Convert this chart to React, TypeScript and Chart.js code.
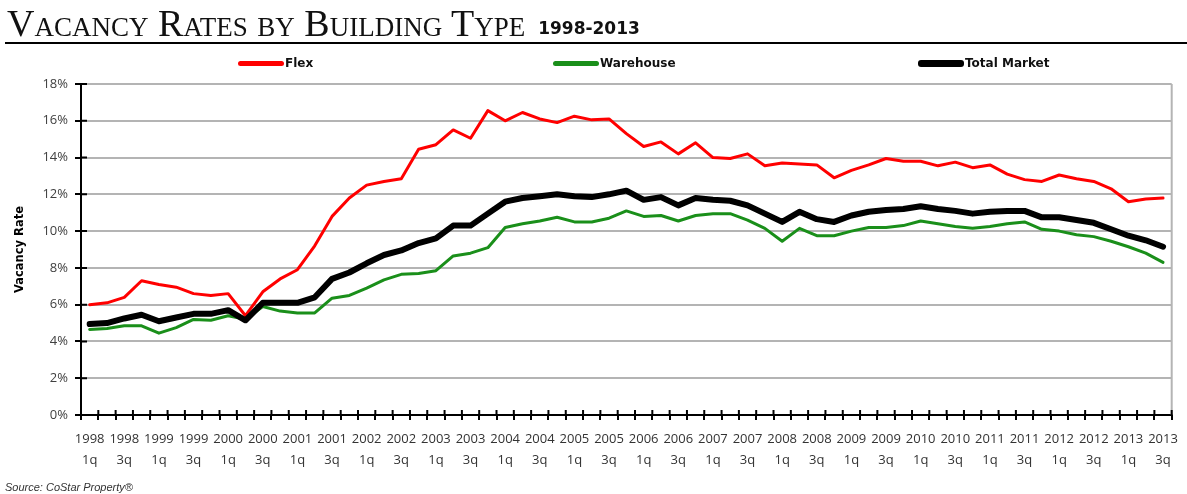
import React, { useEffect, useRef } from 'react';
import { Chart, registerables } from 'chart.js';

Chart.register(...registerables);

// ---------- DATA ----------
const categories = [
  '1998 1q', '1998 2q', '1998 3q', '1998 4q',
  '1999 1q', '1999 2q', '1999 3q', '1999 4q',
  '2000 1q', '2000 2q', '2000 3q', '2000 4q',
  '2001 1q', '2001 2q', '2001 3q', '2001 4q',
  '2002 1q', '2002 2q', '2002 3q', '2002 4q',
  '2003 1q', '2003 2q', '2003 3q', '2003 4q',
  '2004 1q', '2004 2q', '2004 3q', '2004 4q',
  '2005 1q', '2005 2q', '2005 3q', '2005 4q',
  '2006 1q', '2006 2q', '2006 3q', '2006 4q',
  '2007 1q', '2007 2q', '2007 3q', '2007 4q',
  '2008 1q', '2008 2q', '2008 3q', '2008 4q',
  '2009 1q', '2009 2q', '2009 3q', '2009 4q',
  '2010 1q', '2010 2q', '2010 3q', '2010 4q',
  '2011 1q', '2011 2q', '2011 3q', '2011 4q',
  '2012 1q', '2012 2q', '2012 3q', '2012 4q',
  '2013 1q', '2013 2q', '2013 3q',
];

const flex = [
  6.0, 6.1, 6.4, 7.3, 7.1, 6.95, 6.6, 6.5, 6.6, 5.4,
  6.7, 7.4, 7.9, 9.2, 10.8, 11.8, 12.5, 12.7, 12.85, 14.45,
  14.7, 15.5, 15.05, 16.55, 16.0, 16.45, 16.1, 15.9, 16.25, 16.05,
  16.1, 15.3, 14.6, 14.85, 14.2, 14.8, 14.0, 13.95, 14.2, 13.55,
  13.7, 13.65, 13.6, 12.9, 13.3, 13.6, 13.95, 13.8, 13.8, 13.55,
  13.75, 13.45, 13.6, 13.1, 12.8, 12.7, 13.05, 12.85, 12.7, 12.3,
  11.6, 11.75, 11.8,
];

const warehouse = [
  4.65, 4.7, 4.85, 4.85, 4.45, 4.75, 5.2, 5.15, 5.4, 5.2,
  5.9, 5.65, 5.55, 5.55, 6.35, 6.5, 6.9, 7.35, 7.65, 7.7,
  7.85, 8.65, 8.8, 9.1, 10.2, 10.4, 10.55, 10.75, 10.5, 10.5,
  10.7, 11.1, 10.8, 10.85, 10.55, 10.85, 10.95, 10.95, 10.6, 10.15,
  9.45, 10.15, 9.75, 9.75, 10.0, 10.2, 10.2, 10.3, 10.55, 10.4,
  10.25, 10.15, 10.25, 10.4, 10.5, 10.1, 10.0, 9.8, 9.7, 9.45,
  9.15, 8.8, 8.3,
];

const totalMarket = [
  4.95, 5.0, 5.25, 5.45, 5.1, 5.3, 5.5, 5.5, 5.7, 5.15,
  6.1, 6.1, 6.1, 6.4, 7.4, 7.75, 8.25, 8.7, 8.95, 9.35,
  9.6, 10.3, 10.3, 10.95, 11.6, 11.8, 11.9, 12.0, 11.9, 11.85,
  12.0, 12.2, 11.7, 11.85, 11.4, 11.8, 11.7, 11.65, 11.4, 10.95,
  10.5, 11.05, 10.65, 10.5, 10.85, 11.05, 11.15, 11.2, 11.35, 11.2,
  11.1, 10.95, 11.05, 11.1, 11.1, 10.75, 10.75, 10.6, 10.45, 10.1,
  9.75, 9.5, 9.15,
];

const seriesNames = ['Flex', 'Warehouse', 'Total Market'];
const seriesColors = ['#ff0000', '#1a8f1a', '#000000'];

const yMin = 0;
const yMax = 18;
const yStep = 2;

// ---------- LAYOUT ----------
const W = 1187;
const H = 494;
const legendLeft = [238, 553, 918];
const legendLineWidth = [5, 5, 7];

const axisDecor = {
  id: 'axisDecor',
  beforeDatasetsDraw(chart: any) {
    const { ctx, chartArea, scales } = chart;
    const xs = scales.x;
    const ys = scales.y;
    ctx.save();
    // right plot border
    ctx.strokeStyle = '#b4b4b4';
    ctx.lineWidth = 2;
    ctx.beginPath();
    ctx.moveTo(chartArea.right, chartArea.top);
    ctx.lineTo(chartArea.right, chartArea.bottom);
    ctx.stroke();
    // inner halves of tick marks
    ctx.strokeStyle = '#000';
    ctx.lineWidth = 2;
    const p0 = xs.getPixelForValue(0);
    const step = xs.getPixelForValue(1) - p0;
    ctx.beginPath();
    for (let i = 0; i <= categories.length; i++) {
      const px = p0 - step / 2 + i * step;
      ctx.moveTo(px, chartArea.bottom);
      ctx.lineTo(px, chartArea.bottom - 5);
    }
    ys.ticks.forEach((t: any) => {
      const py = ys.getPixelForValue(t.value);
      ctx.moveTo(chartArea.left, py);
      ctx.lineTo(chartArea.left + 6, py);
    });
    ctx.stroke();
    ctx.restore();
  },
};

export default function App() {
  const canvasRef = useRef<HTMLCanvasElement | null>(null);

  useEffect(() => {
    if (!canvasRef.current) return;
    const seriesData = [flex, warehouse, totalMarket];
    const widths = [3, 3, 6];
    const orders = [2, 1, 0];
    const chart = new Chart(canvasRef.current, {
      type: 'line',
      data: {
        labels: categories,
        datasets: seriesNames.map((name, i) => ({
          label: name,
          data: seriesData[i],
          borderColor: seriesColors[i],
          backgroundColor: seriesColors[i],
          borderWidth: widths[i],
          pointRadius: 0,
          tension: 0,
          fill: false,
          order: orders[i],
          borderJoinStyle: 'round' as const,
          borderCapStyle: 'round' as const,
        })),
      },
      options: {
        responsive: false,
        animation: false,
        layout: { padding: { top: 84, left: 0, right: 11, bottom: 0 } },
        plugins: {
          legend: { display: false },
          title: { display: false },
          tooltip: { enabled: false },
        },
        scales: {
          x: {
            type: 'category',
            offset: true,
            grid: {
              display: true,
              drawOnChartArea: false,
              drawTicks: true,
              tickLength: 5,
              color: '#000',
              lineWidth: 2,
              offset: true,
            },
            border: { display: true, color: '#000', width: 2 },
            ticks: {
              autoSkip: false,
              maxRotation: 0,
              minRotation: 0,
              padding: 9,
              color: '#333',
              font: { family: '"Open Sans", sans-serif', size: 13, lineHeight: 1.6 },
              callback: (_v: any, index: number) => {
                if (index % 2 !== 0) return '';
                const parts = categories[index].split(' ');
                return [parts[0], parts[1]];
              },
            },
            afterFit: (scale: any) => {
              scale.height = H - 415;
            },
          },
          y: {
            min: yMin,
            max: yMax,
            grid: {
              color: (ctx: any) => (ctx.tick && ctx.tick.value === 0 ? 'rgba(0,0,0,0)' : '#b4b4b4'),
              lineWidth: 2,
              tickLength: 6,
              tickColor: '#000',
              tickWidth: 2,
            },
            border: { display: true, color: '#000', width: 2 },
            ticks: {
              stepSize: yStep,
              padding: 7,
              color: '#404040',
              font: { family: '"Open Sans", sans-serif', size: 13 },
              callback: (v: any) => `${v}%`,
            },
            title: {
              display: true,
              text: 'Vacancy Rate',
              color: '#000',
              font: { family: '"DejaVu Sans", sans-serif', size: 11.5, weight: 'bold' },
              padding: { top: 13, bottom: 0 },
            },
            afterFit: (scale: any) => {
              scale.width = 81;
            },
          },
        },
      },
      plugins: [axisDecor],
    } as any);
    return () => chart.destroy();
  }, []);

  return (
    <div
      style={{
        position: 'absolute',
        left: 0,
        top: 0,
        width: W,
        height: H,
        background: '#fff',
        overflow: 'hidden',
      }}
    >
      <canvas
        ref={canvasRef}
        width={W}
        height={H}
        style={{ position: 'absolute', left: 0, top: 0, display: 'block', width: W, height: H }}
      />
      <div
        style={{
          position: 'absolute',
          left: 7,
          top: 4,
          display: 'flex',
          alignItems: 'baseline',
          whiteSpace: 'nowrap',
        }}
      >
        <span
          style={{
            fontFamily: '"Liberation Serif", serif',
            fontSize: 38,
            fontVariant: 'small-caps',
            color: '#111',
            lineHeight: 1,
          }}
        >
          Vacancy Rates by Building Type
        </span>
        <span
          style={{
            fontFamily: '"DejaVu Sans", sans-serif',
            fontWeight: 'bold',
            fontSize: 17,
            color: '#111',
            marginLeft: 13,
            position: 'relative',
            top: -2,
          }}
        >
          1998-2013
        </span>
      </div>
      <div
        style={{ position: 'absolute', left: 5, top: 42, width: W - 5, height: 2, background: '#000' }}
      />
      {seriesNames.map((name, i) => (
        <div
          key={name}
          style={{
            position: 'absolute',
            left: legendLeft[i],
            top: 55,
            height: 16,
            display: 'flex',
            alignItems: 'center',
            whiteSpace: 'nowrap',
          }}
        >
          <span
            style={{
              display: 'inline-block',
              width: 46,
              height: legendLineWidth[i],
              borderRadius: 3,
              background: seriesColors[i],
              marginRight: 1,
            }}
          />
          <span
            style={{
              fontFamily: '"DejaVu Sans", sans-serif',
              fontWeight: 'bold',
              fontSize: 12,
              color: '#111',
            }}
          >
            {name}
          </span>
        </div>
      ))}
      <div
        style={{
          position: 'absolute',
          left: 5,
          top: 480,
          fontFamily: '"Liberation Sans", sans-serif',
          fontStyle: 'italic',
          fontSize: 11,
          color: '#333',
          lineHeight: '14px',
          whiteSpace: 'nowrap',
        }}
      >
        Source: CoStar Property®
      </div>
    </div>
  );
}
